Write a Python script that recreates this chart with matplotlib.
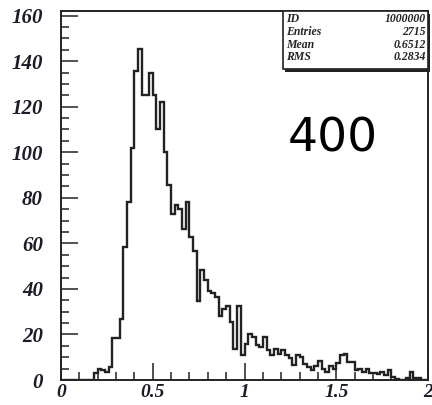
import numpy as np
import matplotlib
matplotlib.use("Agg")
import matplotlib.pyplot as plt
from matplotlib.patches import Rectangle
from matplotlib.ticker import MultipleLocator

# histogram: 100 bins from 0 to 2
bin_edges = np.linspace(0.0, 2.0, 101)
counts = [
    0, 0, 0, 0, 0, 0, 0, 0, 0, 3,
    5, 4.5, 3.5, 5.5, 18.5, 18.5, 27, 58.5, 78, 102,
    135.5, 145.5, 125, 125, 135, 125, 110, 122, 100, 85.5,
    73, 77, 75, 66.5, 78, 63, 56.5, 34.5, 48.5, 44,
    39, 38, 36.5, 28, 31, 32.5, 25.5, 13.5, 32.5, 11,
    16, 20, 19, 15.5, 14.5, 19, 13, 11, 13.5, 11.5,
    13, 11, 9.5, 6.5, 11, 10, 7, 5.5, 4.5, 6,
    8.5, 5, 3.5, 6, 5, 7.5, 11, 11.5, 8, 8,
    4.5, 5, 3.5, 5, 3, 3, 2.5, 3.5, 2, 4.5,
    1.5, 0.5, 0, 0, 1, 3.5, 1, 1, 0, 0,
]

stat_names = ["ID", "Entries", "Mean", "RMS"]
stat_values = ["1000000", "2715", "0.6512", "0.2834"]

x_major = [0, 0.5, 1, 1.5, 2]
x_labels = ["0", "0.5", "1", "1.5", "2"]
y_major = [0, 20, 40, 60, 80, 100, 120, 140, 160]

fig = plt.figure(figsize=(4.32, 4.05), dpi=100)
ax = fig.add_axes([61 / 432, 1 - 380 / 405, 367 / 432, 369 / 405])

ax.stairs(counts, bin_edges, color="#222222", lw=1.7)

ax.set_xlim(0, 2)
ax.set_ylim(0, 162)

tick_font = dict(family="Liberation Serif", style="italic", weight="bold", size=15)
ax.set_xticks(x_major)
ax.set_xticklabels(x_labels, **dict(tick_font, size=14))
ax.set_yticks(y_major)
ax.set_yticklabels([str(v) for v in y_major], **tick_font)
ax.xaxis.set_minor_locator(MultipleLocator(0.1))
ax.yaxis.set_minor_locator(MultipleLocator(5))

ax.tick_params(which="both", direction="in", top=False, right=False,
               width=1.1, color="#222222", labelcolor="#1c1c28")
ax.tick_params(which="major", length=12)
ax.tick_params(which="minor", length=5.5)
ax.tick_params(axis="y", which="major", pad=13)
ax.tick_params(axis="x", which="major", pad=3)
for sp in ax.spines.values():
    sp.set_linewidth(1.4)
    sp.set_color("#222222")

# stats box (ROOT style) with shadow
bx0, by0 = 0.605, 0.843
ax.add_patch(Rectangle((bx0 + 0.006, by0 - 0.008), 1 - bx0, 1 - by0,
                       transform=ax.transAxes, facecolor="#222222",
                       edgecolor="none", clip_on=False, zorder=4))
ax.add_patch(Rectangle((bx0, by0), 1 - bx0, 1 - by0, transform=ax.transAxes,
                       facecolor="white", edgecolor="#222222", lw=1.2,
                       clip_on=False, zorder=5))
stat_font = dict(family="Liberation Serif", style="italic", weight="bold",
                 size=8.5, color="#222222")
row_y = [0.969, 0.935, 0.901, 0.867]
for name, val, yy in zip(stat_names, stat_values, row_y):
    ax.text(0.613, yy, name, transform=ax.transAxes, ha="left",
            va="baseline", zorder=6, **stat_font)
    ax.text(0.994, yy, val, transform=ax.transAxes, ha="right",
            va="baseline", zorder=6, **stat_font)

fig.text(333 / 432, 1 - 152 / 405, "400", ha="center", va="baseline",
         fontsize=34, family="DejaVu Sans", color="black")

fig.savefig("out.png", dpi=100)
